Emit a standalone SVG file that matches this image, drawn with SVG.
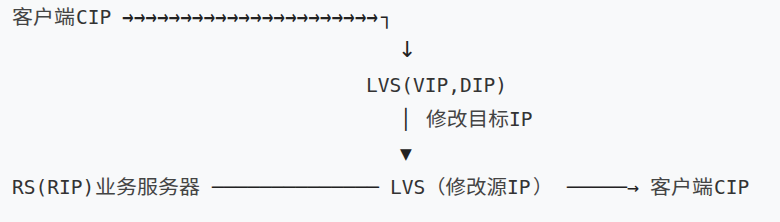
<svg xmlns="http://www.w3.org/2000/svg" width="780" height="222" viewBox="0 0 780 222">
<style>
text{font-family:"DejaVu Sans Mono","Noto Sans CJK SC",monospace;font-size:19.5px;fill:#333}
.cjk{font-family:"Noto Sans CJK SC","DejaVu Sans Mono",sans-serif;fill:#444}
.c{fill:#222}
.a{font-family:"DejaVu Sans",sans-serif;font-size:19px;fill:#222;font-weight:bold}
.d{font-family:"DejaVu Sans",sans-serif;font-size:22px;fill:#222}
</style>
<rect width="780" height="222" fill="#f8f9fa"/>
<g id="client-top">
<text x="12" y="24" class="cjk" textLength="63" lengthAdjust="spacingAndGlyphs">客户端</text>
<text x="76" y="24">CIP</text>
</g>
<g id="lvs-vip">
<text x="366" y="92">LVS(VIP,DIP)</text>
</g>
<g id="label-dst">
<text x="426" y="126" class="cjk" textLength="83" lengthAdjust="spacingAndGlyphs">修改目标</text>
<text x="509" y="126">IP</text>
</g>
<g id="rs">
<text x="12" y="194">RS(RIP)</text>
<text x="95" y="194" class="cjk" textLength="105" lengthAdjust="spacingAndGlyphs">业务服务器</text>
</g>
<g id="lvs-src">
<text x="390" y="194">LVS</text>
<text x="425" y="194" class="cjk" textLength="82" lengthAdjust="spacingAndGlyphs">（修改源</text>
<text x="507" y="194">IP</text>
<text x="533" y="194" class="cjk">）</text>
</g>
<g id="client-bottom">
<text x="650" y="194" class="cjk" textLength="63" lengthAdjust="spacingAndGlyphs">客户端</text>
<text x="714" y="194">CIP</text>
</g>
<g id="connectors">
<text y="24"><tspan x="122" class="a" textLength="256" lengthAdjust="spacingAndGlyphs">→→→→→→→→→→→→→→→→→→→→→→</tspan><tspan x="381" class="c">┐</tspan></text>
<text x="398" y="57" class="d">↓</text>
<text x="400" y="126" class="c">│</text>
<text x="400" y="160" class="c">▼</text>
<text x="212" y="194" class="c" textLength="167" lengthAdjust="spacingAndGlyphs">──────────────</text>
<text x="567" y="194" class="c" textLength="72" lengthAdjust="spacingAndGlyphs">─────→</text>
</g>
</svg>
